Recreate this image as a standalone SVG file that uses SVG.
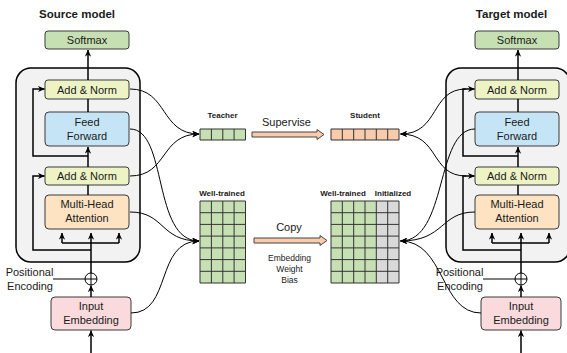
<svg xmlns="http://www.w3.org/2000/svg" width="567" height="353" viewBox="0 0 567 353">
<defs>
<marker id="ah" viewBox="0 0 10 10" refX="9.5" refY="5" markerWidth="7" markerHeight="7" markerUnits="userSpaceOnUse" orient="auto"><path d="M0,0.5 L10,5 L0,9.5 L3,5 z" fill="#000"/></marker>
</defs>
<style>
text{font-family:"Liberation Sans",Arial,sans-serif;fill:#1a1a1a}
.t{font-size:11px;text-anchor:middle}
.h{font-size:11.5px;font-weight:bold;text-anchor:middle}
.s{font-size:8px;font-weight:bold;text-anchor:middle}
.x{font-size:8.5px;text-anchor:middle}
.box{stroke:#3a3a3a;stroke-width:1}
.ln{stroke:#000;stroke-width:1.5;fill:none}
.cv{stroke:#000;stroke-width:1;fill:none}
.outer{fill:#f2f2f2;stroke:#000;stroke-width:1.5}
.green{fill:#c6e0b4}
.yel{fill:#eef3c6}
.blue{fill:#c5e5f6}
.org{fill:#fde3c2}
.pink{fill:#fadadd}
.peach{fill:#f8cbad}
.gray{fill:#d9d9d9}
.grid{stroke:#333;stroke-width:1;fill:none}
.blk{fill:#f8cbad;stroke:#444;stroke-width:1}
</style>

<g id="source-model">
<text class="h" x="77" y="18">Source model</text>
<rect class="outer" x="16" y="68" width="124" height="194" rx="15"/>
<g id="src-softmax"><rect class="box green" x="45" y="31" width="84" height="18" rx="3"/><text class="t" x="87" y="44">Softmax</text></g>
<g id="src-addnorm2"><rect class="box yel" x="45" y="80" width="84" height="19" rx="3"/><text class="t" x="87" y="93.5">Add &amp; Norm</text></g>
<g id="src-ff"><rect class="box blue" x="45" y="112" width="84" height="34" rx="4"/><text class="t" x="87" y="126">Feed</text><text class="t" x="87" y="140">Forward</text></g>
<g id="src-addnorm1"><rect class="box yel" x="45" y="167" width="84" height="18" rx="3"/><text class="t" x="87" y="180">Add &amp; Norm</text></g>
<g id="src-mha"><rect class="box org" x="45" y="195" width="84" height="34" rx="4"/><text class="t" x="87" y="208">Multi-Head</text><text class="t" x="87" y="222">Attention</text></g>
<g id="src-pe"><text class="t" x="29.5" y="276">Positional</text><text class="t" x="30" y="290">Encoding</text><circle cx="91" cy="279" r="6" fill="#fff" stroke="#000" stroke-width="1"/><path d="M85,279 H97 M91,273 V285" stroke="#000" stroke-width="1"/></g>
<g id="src-emb"><rect class="box pink" x="51" y="297" width="80" height="33" rx="4"/><text class="t" x="91" y="310">Input</text><text class="t" x="91" y="324">Embedding</text></g>
<g id="src-wires">
<path class="ln" d="M88,80 V50" marker-end="url(#ah)"/>
<path class="ln" d="M88,112 V99"/>
<path class="ln" d="M88,167 V147" marker-end="url(#ah)"/>
<path class="ln" d="M88,156 H33 V89 H44.5" marker-end="url(#ah)"/>
<path class="ln" d="M88,195 V185"/>
<path class="ln" d="M91,250 H33 V176 H44.5" marker-end="url(#ah)"/>
<path class="ln" d="M91,273 V233" marker-end="url(#ah)"/>
<path class="ln" d="M62,243 H119"/>
<path class="ln" d="M62,243 V233" marker-end="url(#ah)"/>
<path class="ln" d="M119,243 V233" marker-end="url(#ah)"/>
<path class="cv" d="M53,279 H85"/>
<path class="ln" d="M91,297 V285.5" marker-end="url(#ah)"/>
<path class="ln" d="M91,353 V330.5" marker-end="url(#ah)"/>
</g>
</g>

<g id="target-model">
<text class="h" x="511.5" y="18">Target model</text>
<g transform="translate(430,0)">
<rect class="outer" x="16" y="68" width="124" height="194" rx="15"/>
<g id="tgt-softmax"><rect class="box green" x="45" y="31" width="84" height="18" rx="3"/><text class="t" x="87" y="44">Softmax</text></g>
<g id="tgt-addnorm2"><rect class="box yel" x="45" y="80" width="84" height="19" rx="3"/><text class="t" x="87" y="93.5">Add &amp; Norm</text></g>
<g id="tgt-ff"><rect class="box blue" x="45" y="112" width="84" height="34" rx="4"/><text class="t" x="87" y="126">Feed</text><text class="t" x="87" y="140">Forward</text></g>
<g id="tgt-addnorm1"><rect class="box yel" x="45" y="167" width="84" height="18" rx="3"/><text class="t" x="87" y="180">Add &amp; Norm</text></g>
<g id="tgt-mha"><rect class="box org" x="45" y="195" width="84" height="34" rx="4"/><text class="t" x="87" y="208">Multi-Head</text><text class="t" x="87" y="222">Attention</text></g>
<g id="tgt-pe"><text class="t" x="29.5" y="276">Positional</text><text class="t" x="30" y="290">Encoding</text><circle cx="91" cy="279" r="6" fill="#fff" stroke="#000" stroke-width="1"/><path d="M85,279 H97 M91,273 V285" stroke="#000" stroke-width="1"/></g>
<g id="tgt-emb"><rect class="box pink" x="51" y="297" width="80" height="33" rx="4"/><text class="t" x="91" y="310">Input</text><text class="t" x="91" y="324">Embedding</text></g>
<g id="tgt-wires">
<path class="ln" d="M88,80 V50" marker-end="url(#ah)"/>
<path class="ln" d="M88,112 V99"/>
<path class="ln" d="M88,167 V147" marker-end="url(#ah)"/>
<path class="ln" d="M88,156 H33 V89 H44.5" marker-end="url(#ah)"/>
<path class="ln" d="M88,195 V185"/>
<path class="ln" d="M91,250 H33 V176 H44.5" marker-end="url(#ah)"/>
<path class="ln" d="M91,273 V233" marker-end="url(#ah)"/>
<path class="ln" d="M62,243 H119"/>
<path class="ln" d="M62,243 V233" marker-end="url(#ah)"/>
<path class="ln" d="M119,243 V233" marker-end="url(#ah)"/>
<path class="cv" d="M53,279 H85"/>
<path class="ln" d="M91,297 V285.5" marker-end="url(#ah)"/>
<path class="ln" d="M91,353 V330.5" marker-end="url(#ah)"/>
</g>
</g>
</g>

<g id="teacher">
<text class="s" x="222.5" y="118">Teacher</text>
<rect class="green" x="200" y="129" width="45.5" height="11"/>
<path class="grid" d="M200,129 h45.5 v11 h-45.5 z M211.4,129 v11 M222.8,129 v11 M234.1,129 v11"/>
</g>
<g id="student">
<text class="s" x="365" y="118">Student</text>
<rect class="peach" x="331" y="129" width="68" height="11"/>
<path class="grid" d="M331,129 h68 v11 h-68 z M342.3,129 v11 M353.7,129 v11 M365,129 v11 M376.3,129 v11 M387.7,129 v11"/>
</g>
<g id="supervise">
<text class="t" x="286.5" y="126">Supervise</text>
<path class="blk" d="M252,132 H317 V129.5 L324,134.5 L317,139.5 V137 H252 Z"/>
</g>
<g id="src-weights">
<text class="s" x="222" y="196">Well-trained</text>
<rect class="green" x="200" y="201" width="45.5" height="82"/>
<path class="grid" d="M200,201 h45.5 v82 h-45.5 z M211.4,201 v82 M222.8,201 v82 M234.1,201 v82 M200,212.7 h45.5 M200,224.4 h45.5 M200,236.1 h45.5 M200,247.9 h45.5 M200,259.6 h45.5 M200,271.3 h45.5"/>
</g>
<g id="tgt-weights">
<text class="s" x="343" y="196">Well-trained</text>
<text class="s" x="393" y="196">Initialized</text>
<rect class="green" x="331" y="201" width="45.3" height="82"/>
<rect class="gray" x="376.3" y="201" width="22.7" height="82"/>
<path class="grid" d="M331,201 h68 v82 h-68 z M342.3,201 v82 M353.7,201 v82 M365,201 v82 M376.3,201 v82 M387.7,201 v82 M331,212.7 h68 M331,224.4 h68 M331,236.1 h68 M331,247.9 h68 M331,259.6 h68 M331,271.3 h68"/>
</g>
<g id="copy">
<text class="t" x="289" y="231">Copy</text>
<path class="blk" d="M254,238 H320 V235.5 L327,240.5 L320,245.5 V243 H254 Z"/>
<text class="x" x="289.5" y="261">Embedding</text>
<text class="x" x="289.5" y="272">Weight</text>
<text class="x" x="289.5" y="283">Bias</text>
</g>

<g id="connectors">
<path class="cv" d="M130,89 C168,89 160,134 199,134" marker-end="url(#ah)"/>
<path class="cv" d="M130,176 C168,176 160,134 199,134" marker-end="url(#ah)"/>
<path class="cv" d="M130,129 C168,129 152,241 199,241" marker-end="url(#ah)"/>
<path class="cv" d="M130,212 C165,212 160,241 199,241" marker-end="url(#ah)"/>
<path class="cv" d="M131,313 C172,313 155,241 199,241" marker-end="url(#ah)"/>
<path class="cv" d="M466,89 C430,89 440,134 400.5,134" marker-end="url(#ah)"/>
<path class="cv" d="M466,176 C430,176 440,134 400.5,134" marker-end="url(#ah)"/>
<path class="cv" d="M475,129 C435,129 448,241 400.5,241" marker-end="url(#ah)"/>
<path class="cv" d="M475,212 C440,212 445,241 400.5,241" marker-end="url(#ah)"/>
<path class="cv" d="M481,313 C440,313 445,241 400.5,241" marker-end="url(#ah)"/>
</g>
</svg>
